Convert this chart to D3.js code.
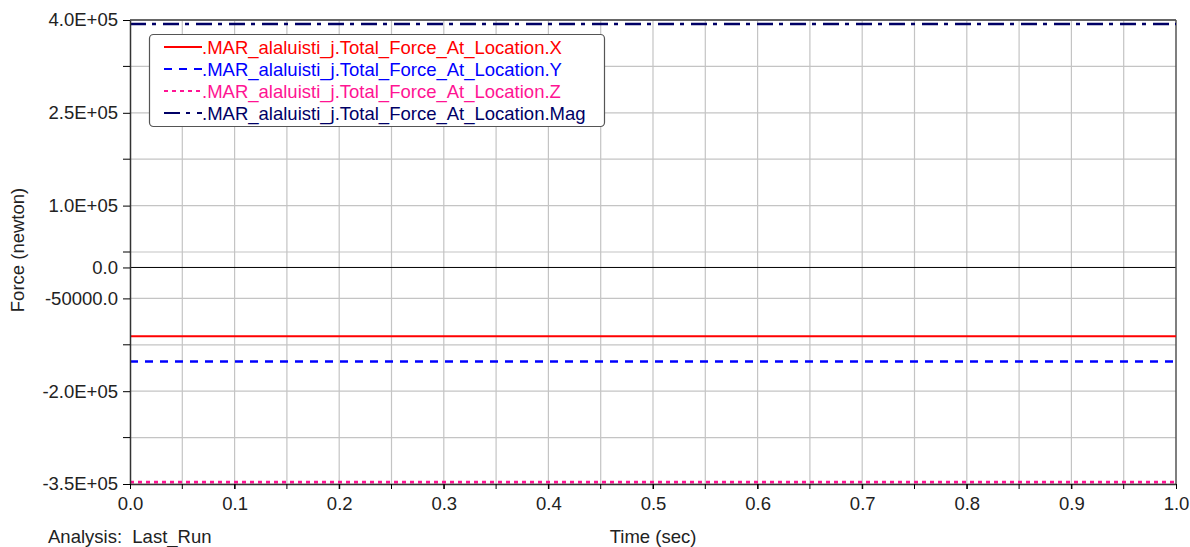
<!DOCTYPE html>
<html>
<head>
<meta charset="utf-8">
<script src="https://cdn.jsdelivr.net/npm/d3@7"></script>
<style>
  body { margin: 0; background: #fff; }
  svg { font-family: "Liberation Sans", Arial, sans-serif; }
</style>
</head>
<body>
<div id="chart"></div>
<script>
// constant force components over the run
var timeRange = [0.0, 1.0];
var seriesNames = [".MAR_alaluisti_j.Total_Force_At_Location.X",
                   ".MAR_alaluisti_j.Total_Force_At_Location.Y",
                   ".MAR_alaluisti_j.Total_Force_At_Location.Z",
                   ".MAR_alaluisti_j.Total_Force_At_Location.Mag"];
var seriesValues = [-111000, -152000, -347000, 393500];
var seriesColors = ["#ff0000", "#0000ff", "#ff1493", "#000066"];
var seriesDash = ["none", "8,7", "4,4", "16,6,4,7"];
var seriesWidth = [2, 2.6, 2.6, 2.6];
var yLabelTicks = [400000, 250000, 100000, 0, -50000, -200000, -350000];
var yLabelText = ["4.0E+05", "2.5E+05", "1.0E+05", "0.0", "-50000.0", "-2.0E+05", "-3.5E+05"];
var yMinorTicks = [325000, 175000, 25000, -125000, -275000];
var yGrid = [400000, 325000, 250000, 175000, 100000, 25000, -50000, -125000, -200000, -275000, -350000];
var xLabelTicks = [0.0, 0.1, 0.2, 0.3, 0.4, 0.5, 0.6, 0.7, 0.8, 0.9, 1.0];
var xGrid = [0.05, 0.1, 0.15, 0.2, 0.25, 0.3, 0.35, 0.4, 0.45, 0.5, 0.55, 0.6, 0.65, 0.7, 0.75, 0.8, 0.85, 0.9, 0.95];

function draw() {
    var width = 1190, height = 547;
    var pLeft = 130, pRight = 1176, pTop = 20, pBottom = 484;
    var fs = "18.5px";

    var svg = d3.select("#chart").append("svg")
        .attr("width", width)
        .attr("height", height);

    var x = d3.scaleLinear().domain([0, 1]).range([pLeft, pRight]);
    var y = d3.scaleLinear().domain([-350000, 400000]).range([pBottom, pTop]);

    // grid
    svg.append("g").selectAll("line").data(xGrid).enter().append("line")
        .attr("x1", function (d) { return x(d); })
        .attr("x2", function (d) { return x(d); })
        .attr("y1", pTop).attr("y2", pBottom)
        .attr("stroke", "#c4c4c4").attr("stroke-width", 1.2);

    svg.append("g").selectAll("line").data(yGrid).enter().append("line")
        .attr("x1", pLeft).attr("x2", pRight)
        .attr("y1", function (d) { return y(d); })
        .attr("y2", function (d) { return y(d); })
        .attr("stroke", "#c4c4c4").attr("stroke-width", 1.2);

    // zero line
    svg.append("line")
        .attr("x1", pLeft).attr("x2", pRight)
        .attr("y1", y(0)).attr("y2", y(0))
        .attr("stroke", "#000").attr("stroke-width", 1);

    // frame: top and right
    svg.append("line").attr("x1", pLeft).attr("x2", pRight).attr("y1", pTop).attr("y2", pTop)
        .attr("stroke", "#666").attr("stroke-width", 2);
    svg.append("line").attr("x1", pRight).attr("x2", pRight).attr("y1", pTop).attr("y2", pBottom)
        .attr("stroke", "#555").attr("stroke-width", 1.5);

    // series lines
    svg.append("g").selectAll("line").data(seriesValues).enter().append("line")
        .attr("x1", x(timeRange[0])).attr("x2", x(timeRange[1]))
        .attr("y1", function (d) { return y(d); })
        .attr("y2", function (d) { return y(d); })
        .attr("stroke", function (d, i) { return seriesColors[i]; })
        .attr("stroke-width", function (d, i) { return seriesWidth[i]; })
        .attr("stroke-dasharray", function (d, i) { return seriesDash[i]; });

    // y axis
    var yAxis = d3.axisLeft(y).tickValues(yLabelTicks)
        .tickFormat(function (d, i) { return yLabelText[i]; })
        .tickSizeInner(7).tickSizeOuter(0).tickPadding(5);
    var gy = svg.append("g").attr("transform", "translate(" + pLeft + ",0)").call(yAxis);
    gy.selectAll("text").style("font-size", fs).attr("fill", "#222");
    gy.append("g").selectAll("line").data(yMinorTicks).enter().append("line")
        .attr("x1", -7).attr("x2", 0)
        .attr("y1", function (d) { return y(d); })
        .attr("y2", function (d) { return y(d); })
        .attr("stroke", "#000");

    // x axis
    var xAxis = d3.axisBottom(x).tickValues(xLabelTicks)
        .tickFormat(d3.format(".1f"))
        .tickSizeInner(5).tickSizeOuter(0).tickPadding(8);
    var gx = svg.append("g").attr("transform", "translate(0," + pBottom + ")").call(xAxis);
    gx.selectAll("text").style("font-size", fs).attr("fill", "#222");
    gx.append("g").selectAll("line").data(xGrid).enter().append("line")
        .attr("x1", function (d) { return x(d); })
        .attr("x2", function (d) { return x(d); })
        .attr("y1", 0).attr("y2", 5)
        .attr("stroke", "#000");
    svg.selectAll(".domain").attr("stroke", "#333").attr("stroke-width", 1.5);

    // titles
    svg.append("text")
        .attr("transform", "translate(24,250) rotate(-90)")
        .attr("text-anchor", "middle")
        .style("font-size", fs).attr("fill", "#222")
        .text("Force (newton)");
    svg.append("text")
        .attr("x", 653).attr("y", 543)
        .attr("text-anchor", "middle")
        .style("font-size", fs).attr("fill", "#222")
        .text("Time (sec)");
    svg.append("text")
        .attr("x", 48).attr("y", 543)
        .style("font-size", fs).attr("fill", "#222")
        .attr("xml:space", "preserve")
        .text("Analysis:  Last_Run");

    // legend
    var legend = svg.append("g");
    legend.append("rect")
        .attr("x", 149.5).attr("y", 34.5)
        .attr("width", 455).attr("height", 92)
        .attr("rx", 4)
        .attr("fill", "#fff")
        .attr("stroke", "#555").attr("stroke-width", 1.2);
    var items = legend.selectAll("g.item").data(seriesNames).enter().append("g")
        .attr("class", "item")
        .attr("transform", function (d, i) { return "translate(0," + (47 + i * 22) + ")"; });
    items.append("line")
        .attr("x1", 164).attr("x2", 202)
        .attr("y1", 0).attr("y2", 0)
        .attr("stroke", function (d, i) { return seriesColors[i]; })
        .attr("stroke-width", 2)
        .attr("stroke-dasharray", function (d, i) { return seriesDash[i]; });
    items.append("text")
        .attr("x", 202).attr("y", 6.5)
        .style("font-size", fs)
        .attr("fill", function (d, i) { return seriesColors[i]; })
        .text(function (d) { return d; });
}
draw();
</script>
</body>
</html>
